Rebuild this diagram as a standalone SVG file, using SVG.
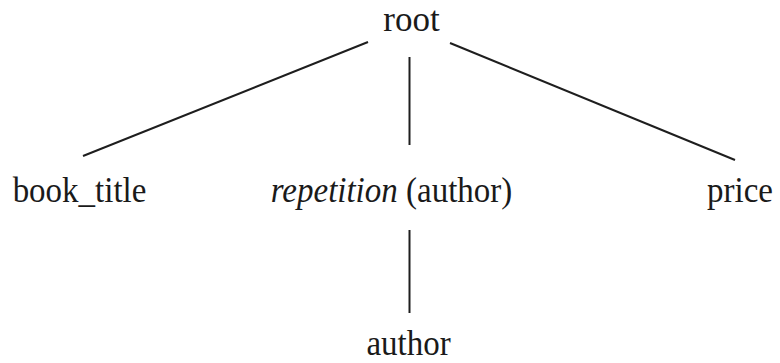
<svg xmlns="http://www.w3.org/2000/svg" width="780" height="363" viewBox="0 0 780 363">
<style>
text{font-family:"Liberation Serif","Times New Roman",serif;font-size:33px;fill:#1a1a1a;text-anchor:middle}
.edge{stroke:#1e1e1e;stroke-width:2;fill:none;stroke-linecap:butt}
</style>
<rect width="780" height="363" fill="#ffffff"/>
<g id="connectors">
<line class="edge" x1="368" y1="42" x2="83" y2="156"/>
<line class="edge" x1="409.5" y1="57" x2="409.5" y2="145"/>
<line class="edge" x1="450" y1="43" x2="735" y2="160"/>
<line class="edge" x1="409.5" y1="230" x2="409.5" y2="313"/>
</g>
<g id="root" transform="translate(411.5,31)"><text x="0" y="0" style="font-size:35px">root</text></g>
<g id="book_title" transform="translate(79.5,202) scale(1,1.1)"><text x="0" y="0">book_title</text></g>
<g id="repetition" transform="translate(391.5,202) scale(1,1.1)"><text x="0" y="0"><tspan font-style="italic">repetition</tspan> (author)</text></g>
<g id="price" transform="translate(740,202) scale(1,1.1)"><text x="0" y="0">price</text></g>
<g id="author" transform="translate(408.5,355) scale(1,1.1)"><text x="0" y="0">author</text></g>
</svg>
